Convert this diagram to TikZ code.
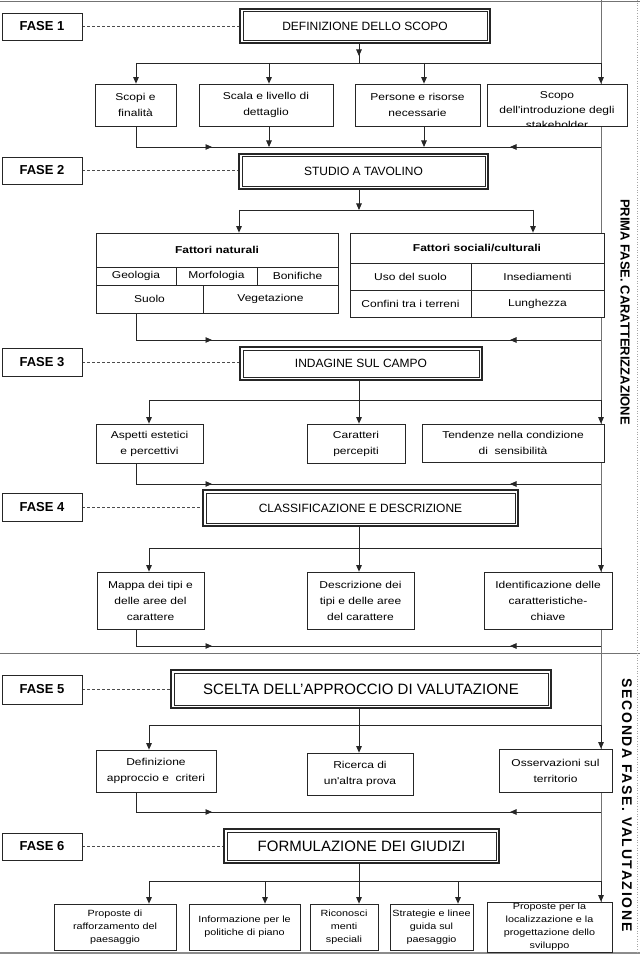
\documentclass[tikz,border=0pt]{standalone}
\usepackage{fontspec}
\setmainfont{Liberation Sans}
\newfontfamily\boxfont[FakeStretch=1.2]{Liberation Sans}
\usetikzlibrary{arrows.meta}
\pgfdeclarelayer{bg}
\pgfsetlayers{bg,main}
\tikzset{
  lbl/.style={draw=black!85, line width=0.8pt, fill=white, inner sep=0pt, minimum width=80pt, font=\fontsize{13}{15}\selectfont\bfseries},
  mainbox/.style={draw=black!85, line width=1.2pt, fill=white, inner sep=0pt, font=\fontsize{12}{14}\selectfont,
    path picture={\draw[black!85, line width=0.6pt]
      ([shift={(2.8pt,-2.8pt)}]path picture bounding box.north west) rectangle
      ([shift={(-2.8pt,2.8pt)}]path picture bounding box.south east);}},
  bigbox/.style={mainbox, font=\fontsize{15}{17}\selectfont},
  cbox/.style={draw=black!85, line width=0.7pt, fill=white, inner sep=0pt, align=center, font=\boxfont\fontsize{10}{16}\selectfont},
  bbox/.style={cbox, font=\boxfont\fontsize{9}{13}\selectfont},
  cell/.style={draw=black!85, line width=0.7pt, fill=white, inner sep=0pt, font=\boxfont\fontsize{10}{12}\selectfont},
  celltitle/.style={cell, font=\boxfont\fontsize{10}{12}\selectfont\bfseries},
  link/.style={draw=black!85, line width=0.9pt},
  arr/.style={link, -{Triangle[length=6.5pt,width=5.5pt]}},
  dashlink/.style={draw=black!70, line width=0.7pt, dash pattern=on 3pt off 2pt},
  vline/.style={draw=black!55, line width=0.9pt},
  sideline/.style={draw=black!55, line width=0.8pt},
  sidetext/.style={inner sep=0pt, font=\fontsize{13}{15}\selectfont\bfseries},
}
\begin{document}
\begin{tikzpicture}[x=1pt,y=-1pt]
\useasboundingbox (0,0) rectangle (640,965);
% ---------- coordinates ----------
\coordinate (tl) at (0,1); \coordinate (tr) at (640,1);
\coordinate (bl) at (0,953); \coordinate (br) at (640,953);
\coordinate (sl) at (0,653); \coordinate (sr) at (640,653);
\coordinate (vt) at (601,0); \coordinate (vb) at (601,952);
\coordinate (dt) at (637,0); \coordinate (db) at (637,953);
\coordinate (x1) at (359,63); \coordinate (x1m) at (359,56);
\coordinate (b1L) at (136,63); \coordinate (b1a) at (269,63); \coordinate (b1b) at (424,63); \coordinate (b1R) at (601,63);
\coordinate (c1L) at (136,147); \coordinate (c1a) at (212,147); \coordinate (c1b) at (510,147); \coordinate (c1R) at (601,147);
\coordinate (x2) at (359,210); \coordinate (b2L) at (239,210); \coordinate (b2R) at (533,210);
\coordinate (c2L) at (136,340); \coordinate (c2a) at (212,340); \coordinate (c2b) at (510,340); \coordinate (c2R) at (601,340);
\coordinate (x3) at (359,400); \coordinate (b3L) at (149,400); \coordinate (b3R) at (601,400);
\coordinate (c3L) at (136,484); \coordinate (c3a) at (212,484); \coordinate (c3b) at (510,484); \coordinate (c3R) at (601,484);
\coordinate (x4) at (359,548); \coordinate (b4L) at (149,548); \coordinate (b4R) at (601,548);
\coordinate (c4L) at (136,646); \coordinate (c4a) at (212,646); \coordinate (c4b) at (510,646); \coordinate (c4R) at (601,646);
\coordinate (x5) at (359,725); \coordinate (b5L) at (149,725); \coordinate (b5R) at (601,725);
\coordinate (c5L) at (136,812); \coordinate (c5a) at (212,812); \coordinate (c5b) at (510,812); \coordinate (c5R) at (601,812);
\coordinate (x6) at (359,881); \coordinate (b6L) at (149,881); \coordinate (b6a) at (265,881); \coordinate (b6b) at (458,881); \coordinate (b6R) at (601,881);

% ---------- phase labels ----------
\node[lbl, minimum height=27pt] (f1) at (42,26.5) {FASE 1};
\node[lbl, minimum height=27pt] (f2) at (42,170.5) {FASE 2};
\node[lbl, minimum height=28pt] (f3) at (42,362) {FASE 3};
\node[lbl, minimum height=28pt] (f4) at (42,507) {FASE 4};
\node[lbl, minimum height=29pt] (f5) at (42,689.5) {FASE 5};
\node[lbl, minimum height=27pt] (f6) at (42,846.5) {FASE 6};

% ---------- main boxes ----------
\node[mainbox, minimum width=250pt, minimum height=34pt] (def) at (365,26) {DEFINIZIONE DELLO SCOPO};
\node[mainbox, minimum width=249pt, minimum height=35pt] (stu) at (363.5,171.5) {STUDIO A TAVOLINO};
\node[mainbox, minimum width=242pt, minimum height=33pt] (ind) at (361,363.5) {INDAGINE SUL CAMPO};
\node[mainbox, minimum width=315pt, minimum height=36pt] (cla) at (360.5,508) {CLASSIFICAZIONE E DESCRIZIONE};
\node[bigbox, minimum width=380pt, minimum height=38pt] (sce) at (361,689) {SCELTA DELL'APPROCCIO DI VALUTAZIONE};
\node[bigbox, minimum width=275pt, minimum height=34pt] (frm) at (361.5,846) {FORMULAZIONE DEI GIUDIZI};

% ---------- row 1 ----------
\node[cbox, minimum width=81pt, minimum height=42pt] (s1) at (135.5,105) {Scopi e\\finalità};
\node[cbox, minimum width=134pt, minimum height=42pt] (s2) at (266,105) {Scala e livello di\\dettaglio};
\node[cbox, minimum width=125pt, minimum height=42pt] (s3) at (417.5,105) {Persone e risorse\\necessarie};
\node[cbox, minimum width=140pt, minimum height=42pt] (s4) at (557,105) {};
\begin{scope}
\clip (s4.south west) rectangle (s4.north east);
\node[cbox, draw=none, fill=none, font=\boxfont\fontsize{10}{15}\selectfont] (s4t) at (557,110) {Scopo\\dell'introduzione degli\\stakeholder};
\end{scope}

% ---------- row 2 tables ----------
\node[celltitle, minimum width=242pt, minimum height=34pt] (nt) at (217,250) {Fattori naturali};
\node[cell, minimum width=80pt, minimum height=18pt] (na1) at (136,276) {Geologia};
\node[cell, minimum width=81pt, minimum height=18pt] (na2) at (216.5,276) {Morfologia};
\node[cell, minimum width=81pt, minimum height=18pt] (na3) at (297.5,276) {Bonifiche};
\node[cell, minimum width=107pt, minimum height=28pt] (nb1) at (149.5,299) {Suolo};
\node[cell, minimum width=135pt, minimum height=28pt] (nb2) at (270.5,299) {Vegetazione};
\node[celltitle, minimum width=254pt, minimum height=30pt] (st) at (477,248) {Fattori sociali/culturali};
\node[cell, minimum width=121pt, minimum height=27pt] (sa1) at (410.5,276.5) {Uso del suolo};
\node[cell, minimum width=133pt, minimum height=27pt] (sa2) at (537.5,276.5) {Insediamenti};
\node[cell, minimum width=121pt, minimum height=27pt] (sb1) at (410.5,303.5) {Confini tra i terreni};
\node[cell, minimum width=133pt, minimum height=27pt] (sb2) at (537.5,303.5) {Lunghezza};

% ---------- row 3 ----------
\node[cbox, minimum width=107pt, minimum height=39pt] (asp) at (149.5,443.5) {Aspetti estetici\\e percettivi};
\node[cbox, minimum width=98pt, minimum height=39pt] (car) at (356,443.5) {Caratteri\\percepiti};
\node[cbox, minimum width=182pt, minimum height=38pt] (ten) at (513,443) {Tendenze nella condizione\\di\ \ sensibilità};

% ---------- row 4 ----------
\node[cbox, minimum width=107pt, minimum height=57pt] (map) at (150.5,600.5) {Mappa dei tipi e\\delle aree del\\carattere};
\node[cbox, minimum width=107pt, minimum height=57pt] (des) at (360.5,600.5) {Descrizione dei\\tipi e delle aree\\del carattere};
\node[cbox, minimum width=128pt, minimum height=57pt] (ide) at (548,600.5) {Identificazione delle\\caratteristiche-\\chiave};

% ---------- row 5 ----------
\node[cbox, minimum width=120pt, minimum height=42pt] (dfn) at (156,771) {Definizione\\approccio e\ \ criteri};
\node[cbox, minimum width=106pt, minimum height=42pt] (ric) at (360,774) {Ricerca di\\un'altra prova};
\node[cbox, minimum width=113pt, minimum height=43pt] (oss) at (555.5,770.5) {Osservazioni sul\\territorio};

% ---------- row 6 ----------
\node[bbox, minimum width=122pt, minimum height=46pt] (p1) at (115,927) {Proposte di\\rafforzamento del\\paesaggio};
\node[bbox, minimum width=111pt, minimum height=46pt] (p2) at (244.5,927) {Informazione per le\\politiche di piano};
\node[bbox, minimum width=68pt, minimum height=46pt] (p3) at (344,927) {Riconosci\\menti\\speciali};
\node[bbox, minimum width=83pt, minimum height=46pt] (p4) at (431.5,927) {Strategie e linee\\guida sul\\paesaggio};
\node[bbox, minimum width=125pt, minimum height=50pt] (p5) at (549.5,927) {Proposte per la\\localizzazione e la\\progettazione dello\\sviluppo};

% ---------- side texts ----------
\node[sidetext, rotate=-90] (side1) at (625,312) {PRIMA FASE. CARATTERIZZAZIONE};
\node[sidetext, font=\fontsize{14}{16}\selectfont\bfseries\addfontfeature{LetterSpace=12}, rotate=-90] (side2) at (627,805) {SECONDA FASE. VALUTAZIONE};

% ---------- connectors ----------
\begin{pgfonlayer}{bg}
\fill[white] (0,0) rectangle (640,965);
\draw[sideline] (tl) -- (tr);
\draw[draw=black!45, line width=2.5pt] (bl) -- (br);
\draw[sideline] (sl) -- (sr);
\draw[draw=black!35, line width=0.6pt, dotted] (dt) -- (db);
\draw[vline] (vt) -- (vb);
% dashed phase links
\draw[dashlink] (f1.east) -- (f1.east -| def.west);
\draw[dashlink] (f2.east) -- (f2.east -| stu.west);
\draw[dashlink] (f3.east) -- (f3.east -| ind.west);
\draw[dashlink] (f4.east) -- (f4.east -| cla.west);
\draw[dashlink] (f5.east) -- (f5.east -| sce.west);
\draw[dashlink] (f6.east) -- (f6.east -| frm.west);
% row 1
\draw[link] (def.south -| x1) -- (x1);
\draw[arr] (def.south -| x1) -- (x1m);
\draw[link] (b1L) -- (b1R);
\draw[arr] (b1L) -- (s1.north -| b1L);
\draw[arr] (b1a) -- (s2.north -| b1a);
\draw[arr] (b1b) -- (s3.north -| b1b);
\draw[arr] (b1R) -- (s4.north -| b1R);
\draw[link] (s1.south -| c1L) -- (c1L) -- (c1R);
\draw[arr] (c1L) -- (c1a);
\draw[arr] (c1R) -- (c1b);
\draw[arr] (s2.south -| b1a) -- (b1a |- c1L);
\draw[arr] (s3.south -| b1b) -- (b1b |- c1L);
% row 2
\draw[arr] (stu.south -| x2) -- (x2);
\draw[link] (b2L) -- (b2R);
\draw[arr] (b2L) -- (nt.north -| b2L);
\draw[arr] (b2R) -- (st.north -| b2R);
\draw[link] (nb1.south -| c2L) -- (c2L) -- (c2R);
\draw[arr] (c2L) -- (c2a);
\draw[arr] (c2R) -- (c2b);
% row 3
\draw[link] (b3L) -- (b3R);
\draw[arr] (b3L) -- (asp.north -| b3L);
\draw[arr] (b3R) -- (ten.north -| b3R);
\draw[arr] (ind.south -| x3) -- (car.north -| x3);
\draw[link] (asp.south -| c3L) -- (c3L) -- (c3R);
\draw[arr] (c3L) -- (c3a);
\draw[arr] (c3R) -- (c3b);
% row 4
\draw[link] (b4L) -- (b4R);
\draw[arr] (b4L) -- (map.north -| b4L);
\draw[arr] (b4R) -- (ide.north -| b4R);
\draw[arr] (cla.south -| x4) -- (des.north -| x4);
\draw[link] (map.south -| c4L) -- (c4L) -- (c4R);
\draw[arr] (c4L) -- (c4a);
\draw[arr] (c4R) -- (c4b);
% row 5
\draw[link] (b5L) -- (b5R);
\draw[arr] (b5L) -- (dfn.north -| b5L);
\draw[arr] (b5R) -- (oss.north -| b5R);
\draw[arr] (sce.south -| x5) -- (ric.north -| x5);
\draw[link] (dfn.south -| c5L) -- (c5L) -- (c5R);
\draw[arr] (c5L) -- (c5a);
\draw[arr] (c5R) -- (c5b);
% row 6
\draw[link] (b6L) -- (b6R);
\draw[arr] (b6L) -- (p1.north -| b6L);
\draw[arr] (b6a) -- (p2.north -| b6a);
\draw[arr] (frm.south -| x6) -- (p3.north -| x6);
\draw[arr] (b6b) -- (p4.north -| b6b);
\draw[arr] (b6R) -- (p5.north -| b6R);
\end{pgfonlayer}
\end{tikzpicture}
\end{document}
